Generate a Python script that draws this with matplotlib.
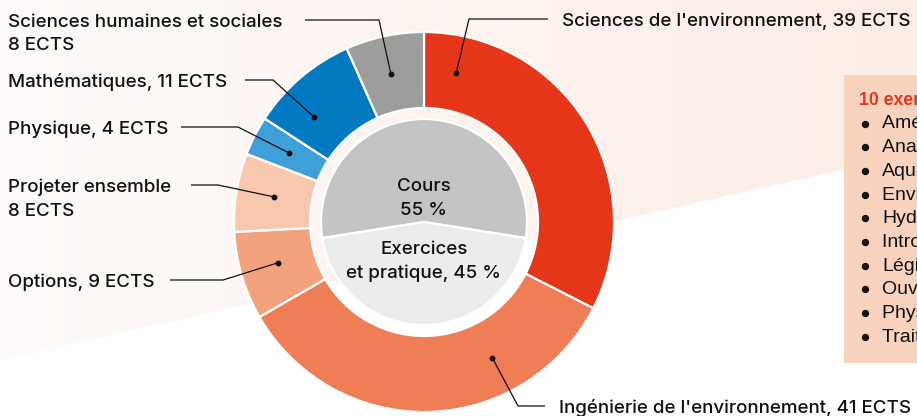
import numpy as np
import matplotlib
matplotlib.use('Agg')
import matplotlib.pyplot as plt
from matplotlib.patches import Polygon, Rectangle
from matplotlib.colors import LinearSegmentedColormap

plt.rcParams['font.family'] = ['Inter', 'DejaVu Sans']

# ECTS par domaine, dans le sens horaire depuis le haut
domaines = ["Sciences de l'environnement", "Ingénierie de l'environnement", "Options",
            "Projeter ensemble", "Physique", "Mathématiques",
            "Sciences humaines et sociales"]
ects = [39, 41, 9, 8, 4, 11, 8]
couleurs = ['#e5361a', '#ef7d55', '#f3a27e', '#f8c8ae', '#3f9fd8', '#0379c1', '#9d9d9c']

# répartition cours / exercices
formes = ['Cours', 'Exercices\net pratique']
parts = [55, 45]
couleurs_formes = ['#c4c4c4', '#ececec']

titre_exercices = '10 exercices pratiques'
exercices = ['Aménagement du territoire', 'Analyse des données', 'Aquatique',
             'Environnement construit', 'Hydrologie', 'Introduction aux SIG',
             'Législation', 'Ouvrages hydrauliques', 'Physique du sol',
             'Traitement des eaux']

W, H = 917, 416
fig = plt.figure(figsize=(W / 100, H / 100), dpi=100)
fig.patch.set_facecolor('white')
ax = fig.add_axes([0, 0, 1, 1])


def Y(y):
    # coordonnées image (y vers le bas) -> coordonnées de l'axe
    return H - y


# bande de fond rosée en dégradé
fond = LinearSegmentedColormap.from_list('fond', ['#fefbfa', '#fcece6'])
img = ax.imshow(np.linspace(0, 1, 256)[None, :], cmap=fond, aspect='auto',
                extent=(0, W, 0, H), zorder=0)
bande = Polygon([(0, Y(0)), (W, Y(0)), (W, Y(153)), (0, Y(360))],
                closed=True, transform=ax.transData, facecolor='none', edgecolor='none')
ax.add_patch(bande)
img.set_clip_path(bande)

cx, cy = 424, Y(222)
r_ext, r_int, r_pie = 190, 114, 103

ax.pie(ects, colors=couleurs, radius=r_ext, center=(cx, cy), startangle=90,
       counterclock=False,
       wedgeprops=dict(width=r_ext - r_int, edgecolor='white', linewidth=1.6))

# le secteur "Cours" est centré en haut
debut = 90 - parts[0] / 100 * 360 / 2
ax.pie(parts, colors=couleurs_formes, radius=r_pie, center=(cx, cy), startangle=debut,
       counterclock=True, wedgeprops=dict(edgecolor='white', linewidth=1.6))

fs = 13.5
txt = dict(fontsize=fs, color='#111111', va='baseline', fontweight='medium')

# étiquettes : (x texte, ligne de base, alignement, départ du trait, coude, angle du point)
etiquettes = {
    "Sciences de l'environnement": (562, 26, 'left', 548, 469, 77.8, False),
    "Ingénierie de l'environnement": (559, 413, 'left', 545, 518, -63.3, False),
    "Options": (8, 287, 'left', 170, 223, 195.6, False),
    "Projeter ensemble": (8, 192, 'left', 191, 218, 170.5, True),
    "Physique": (8, 134, 'left', 181, 238, 152.9, False),
    "Mathématiques": (8, 87, 'left', 245, 273, 136.3, False),
    "Sciences humaines et sociales": (8, 27, 'left', 305, 379, 102.6, True),
}

r_point = (r_ext + r_int) / 2
for nom, val in zip(domaines, ects):
    tx, base, ha, lx, ex, ang, deux = etiquettes[nom]
    lignes = [nom, f'{val} ECTS'] if deux else [f'{nom}, {val} ECTS']
    for i, ligne in enumerate(lignes):
        ax.text(tx, Y(base + i * 23.5), ligne, ha=ha, **txt)
    px = cx + r_point * np.cos(np.radians(ang))
    py = cy + r_point * np.sin(np.radians(ang))
    ly = Y(base - 7)
    ax.plot([lx, ex, px], [ly, ly, py], color='#111111', lw=0.9,
            solid_capstyle='butt', zorder=5)
    ax.plot(px, py, 'o', color='#111111', ms=3.2, zorder=6)

# libellés du camembert central
ax.text(cx, Y(191), 'Cours', ha='center', **txt)
ax.text(cx, Y(215), f'{parts[0]} %', ha='center', **txt)
ax.text(cx, Y(254), 'Exercices', ha='center', **txt)
ax.text(cx, Y(278), f'et pratique, {parts[1]} %', ha='center', **txt)

# encadré des exercices
boite = dict(family=['Liberation Sans', 'DejaVu Sans'], va='baseline', zorder=4)
ax.add_patch(Rectangle((844, Y(363)), 200, 288, facecolor='#fad3bf',
                       edgecolor='none', zorder=3))
ax.text(859, Y(105), titre_exercices, fontsize=12.7, fontweight='bold',
        color='#e5361a', **boite)
for i, ex_nom in enumerate(exercices):
    b = 128.5 + i * 23.7
    ax.plot(865, Y(b - 5), 'o', color='#111111', ms=4.3, zorder=4)
    ax.text(882, Y(b), ex_nom, fontsize=14, color='#111111', **boite)

ax.set_xlim(0, W)
ax.set_ylim(0, H)
ax.set_aspect('equal')
ax.axis('off')

fig.savefig('out.png', dpi=100, facecolor='white')
